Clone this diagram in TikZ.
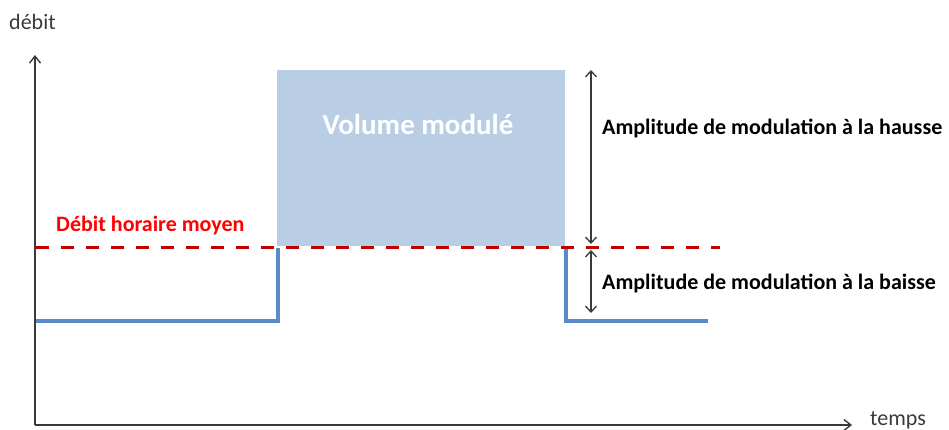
\documentclass[tikz,border=0pt]{standalone}
\usepackage{fontspec}
\setmainfont{Carlito}
\usetikzlibrary{arrows.meta}
\definecolor{axisgrey}{HTML}{3A3A3A}
\definecolor{sigblue}{HTML}{5B8BC6}
\definecolor{volfill}{HTML}{B9CDE5}
\definecolor{meanred}{HTML}{C00000}
\definecolor{labred}{HTML}{FF0000}
\tikzset{
  axisline/.style={draw=axisgrey, line width=2pt, -{Straight Barb[length=7pt,width=11pt,line width=1.4pt]}},
  sigline/.style={draw=sigblue, line width=3.2pt, line join=miter},
  meanline/.style={draw=meanred, line width=3pt, dash pattern=on 13pt off 12pt},
  amparrow/.style={draw=axisgrey, line width=1.8pt, {Straight Barb[length=6pt,width=11pt,line width=1.3pt]}-{Straight Barb[length=6pt,width=11pt,line width=1.3pt]}},
  lab/.style={inner sep=0pt, font=\fontsize{22}{26}\selectfont\bfseries},
  axlab/.style={inner sep=0pt, text=axisgrey, font=\fontsize{22}{26}\selectfont}
}
\begin{document}
\begin{tikzpicture}[x=1pt,y=-1pt]
\useasboundingbox (0,0) rectangle (949,430);
% coordinates
\coordinate (O) at (35,425);
\coordinate (Ytop) at (35,55);
\coordinate (Xend) at (852,425);
% volume rectangle
\fill[volfill] (277,70) rectangle (565,246);
\node[inner sep=0pt, text=white, font=\fontsize{29}{33}\selectfont\bfseries, anchor=center] (vol) at (418,124) {Volume modulé};
% signal
\coordinate (s1) at (36,321);
\coordinate (s2) at (278,321);
\coordinate (s3) at (278,248);
\coordinate (s4) at (566,248);
\coordinate (s5) at (566,321);
\coordinate (s6) at (708,321);
\draw[sigline] (s1) -- (s2) -- (s3);
\draw[sigline] (s4) -- (s5) -- (s6);
% mean line
\coordinate (m1) at (36,247);
\coordinate (m2) at (720,247);
\draw[meanline] (m1) -- (m2);
\node[lab, text=labred, anchor=west] (mean) at (56,226) {Débit horaire moyen};
% axes
\draw[axisline] (O) -- (Ytop);
\draw[axisline] (O) -- (Xend);
\node[axlab, anchor=west] (ylab) at (9,22) {débit};
\node[axlab, anchor=west] (xlab) at (870,420) {temps};
% amplitudes
\coordinate (a1) at (591,70);
\coordinate (a2) at (591,244);
\coordinate (a3) at (591,250);
\coordinate (a4) at (591,313);
\draw[amparrow] (a1) -- (a2);
\draw[amparrow] (a3) -- (a4);
\node[lab, text=black, anchor=west] (hausse) at (602,128) {Amplitude de modulation à la hausse};
\node[lab, text=black, anchor=west] (baisse) at (602,283) {Amplitude de modulation à la baisse};
\end{tikzpicture}
\end{document}
